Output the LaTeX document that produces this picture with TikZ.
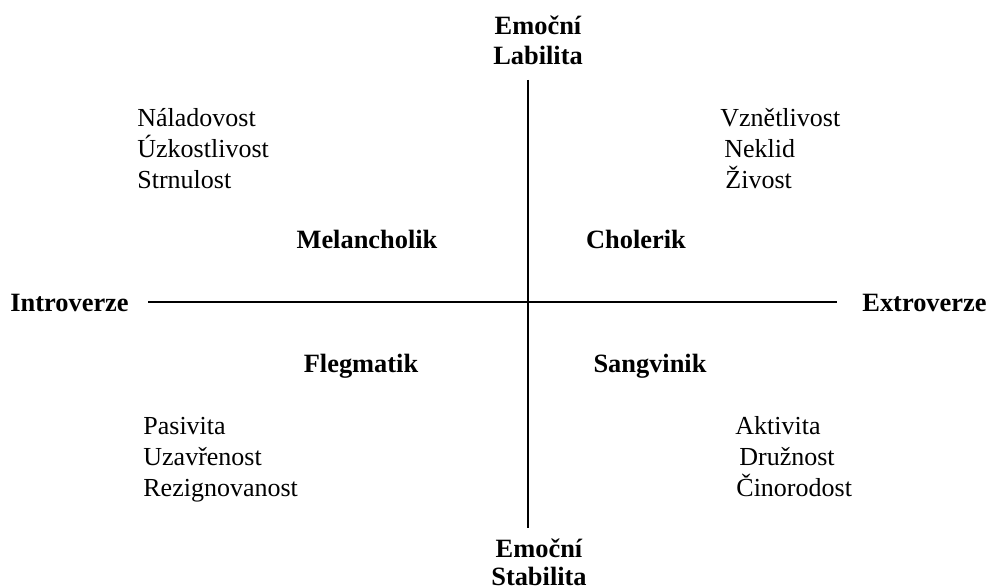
\documentclass[tikz,border=0pt]{standalone}
\usepackage{fontspec}
\setmainfont{Liberation Serif}
\usetikzlibrary{positioning}

\begin{document}
\begin{tikzpicture}[x=0.5pt, y=-0.5pt, font=\fontsize{13}{15}\selectfont,
  trait/.style={anchor=base west, inner sep=0pt},
  temper/.style={anchor=base, inner sep=0pt, font=\fontsize{13.2}{15}\selectfont\bfseries}]
  \useasboundingbox (0,0) rectangle (990,588);
  % ── Axes ──────────────────────────────────────────────────────
  \coordinate (lab)   at (528,80);
  \coordinate (stab)  at (528,528);
  \coordinate (intro) at (148,302);
  \coordinate (extro) at (837,302);
  \draw[line width=1pt] (lab) -- (stab);
  \draw[line width=1pt] (intro) -- (extro);
  % ── Axis labels ───────────────────────────────────────────────
  \node[temper] (emoL)  at (538,35)  {Emoční};
  \node[temper] (labL)  at (538,65)  {Labilita};
  \node[temper] (emoS)  at (539,557) {Emoční};
  \node[temper] (stabL) at (539,585) {Stabilita};
  \node[temper, anchor=base west] (introL) at (10,311)  {Introverze};
  \node[temper, anchor=base west] (extroL) at (862,311) {Extroverze};
  % ── Temperaments ──────────────────────────────────────────────
  \node[temper] (mel) at (367,249) {Melancholik};
  \node[temper] (cho) at (636,249) {Cholerik};
  \node[temper] (fle) at (361,372) {Flegmatik};
  \node[temper] (san) at (650,372) {Sangvinik};
  % ── Traits per quadrant ───────────────────────────────────────
  \foreach \t/\x [count=\i] in {Náladovost/137, Úzkostlivost/137, Strnulost/137}
    \node[trait] (melT\i) at (\x,{127+31*(\i-1)}) {\t};
  \foreach \t/\x [count=\i] in {Vznětlivost/720, Neklid/724, Živost/725}
    \node[trait] (choT\i) at (\x,{127+31*(\i-1)}) {\t};
  \foreach \t/\x [count=\i] in {Pasivita/143, Uzavřenost/143, Rezignovanost/143}
    \node[trait] (fleT\i) at (\x,{434+31*(\i-1)}) {\t};
  \foreach \t/\x [count=\i] in {Aktivita/735, Družnost/739, Činorodost/736}
    \node[trait] (sanT\i) at (\x,{434+31*(\i-1)}) {\t};
\end{tikzpicture}
\end{document}
